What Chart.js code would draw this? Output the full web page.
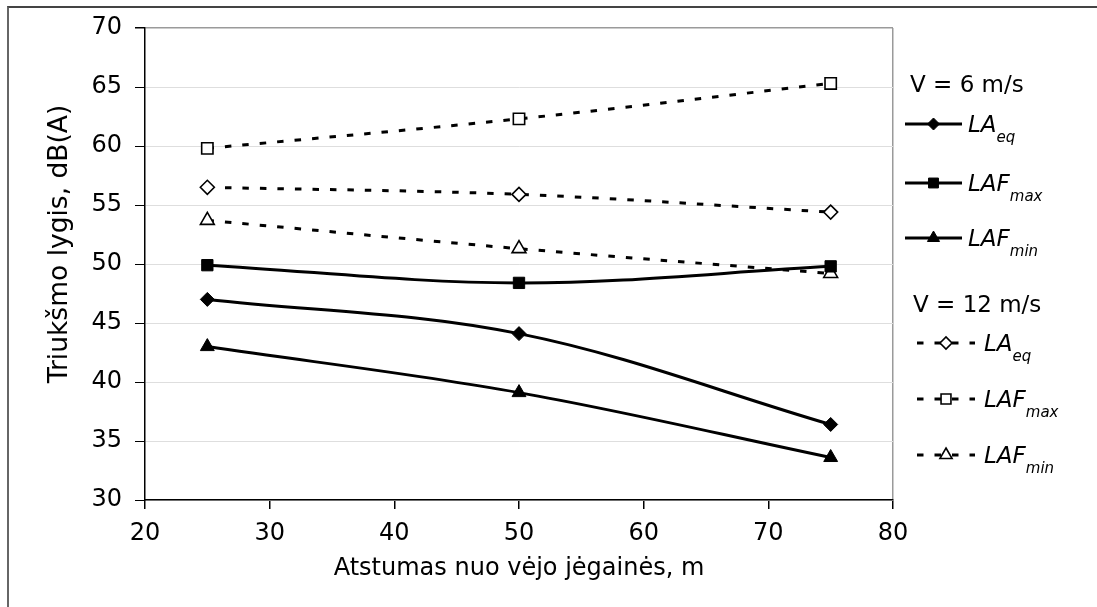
<!DOCTYPE html>
<html lang="lt">
<head>
    <meta charset="UTF-8">
    <title>Triukšmo lygis</title>
    <script src="https://cdn.jsdelivr.net/npm/chart.js"></script>
    <style>
        html, body { margin: 0; padding: 0; background: #fff; }
        #wrap { position: relative; width: 1097px; height: 607px; overflow: hidden; }
        #frame { position: absolute; left: 7px; top: 6px; width: 1200px; height: 700px;
                 border-top: 2px solid #444; border-left: 2px solid #666; }
        canvas { position: absolute; left: 0; top: 0; }
    </style>
</head>
<body>
<div id="wrap">
    <div id="frame"></div>
    <canvas id="noiseChart" width="1097" height="607"></canvas>
</div>

<script>
    // atstumai, m
    const distances = [25, 50, 75];

    // V = 6 m/s
    const laeq6 = [47.0, 44.1, 36.4];
    const lafmax6 = [49.9, 48.4, 49.8];
    const lafmin6 = [43.0, 39.1, 33.6];

    // V = 12 m/s
    const laeq12 = [56.5, 55.9, 54.4];
    const lafmax12 = [59.8, 62.3, 65.3];
    const lafmin12 = [53.7, 51.3, 49.2];

    const xMin = 20, xMax = 80, xStep = 10;
    const yMin = 30, yMax = 70, yStep = 5;

    const xTitle = 'Atstumas nuo vėjo jėgainės, m';
    const yTitle = 'Triukšmo lygis, dB(A)';
    const group6 = 'V = 6 m/s';
    const group12 = 'V = 12 m/s';

    const FONT = '"DejaVu Sans", sans-serif';
    const DASH = [6.5, 11];

    function pts(vals) {
        return vals.map((v, i) => ({ x: distances[i], y: v }));
    }

    function series(label, sub, vals, style, radius, dashed) {
        return {
            label: label,
            sub: sub,
            data: pts(vals),
            borderColor: '#000',
            borderWidth: 3,
            borderDash: dashed ? DASH : [],
            backgroundColor: dashed ? '#fff' : '#000',
            pointStyle: style,
            pointRadius: radius,
            pointHoverRadius: radius,
            pointBorderColor: '#000',
            pointBackgroundColor: dashed ? '#fff' : '#000',
            pointBorderWidth: dashed ? 1.6 : 1,
            tension: 0.35,
            dashed: dashed
        };
    }

    const datasets = [
        series('LA', 'eq', laeq6, 'rectRot', 7, false),
        series('LAF', 'max', lafmax6, 'rect', 8, false),
        series('LAF', 'min', lafmin6, 'triangle', 8, false),
        series('LA', 'eq', laeq12, 'rectRot', 7, true),
        series('LAF', 'max', lafmax12, 'rect', 8, true),
        series('LAF', 'min', lafmin12, 'triangle', 8, true)
    ];

    // ašių pavadinimai ir legenda su indeksais
    const decorPlugin = {
        id: 'decor',
        afterDraw(chart) {
            const ctx = chart.ctx;
            const area = chart.chartArea;
            ctx.save();
            ctx.fillStyle = '#000';

            // x ašies pavadinimas
            ctx.font = '24px ' + FONT;
            ctx.textAlign = 'center';
            ctx.textBaseline = 'middle';
            ctx.fillText(xTitle, (area.left + area.right) / 2, 569);

            // y ašies pavadinimas
            ctx.save();
            ctx.translate(60, 244);
            ctx.rotate(-Math.PI / 2);
            ctx.font = '26.5px ' + FONT;
            ctx.fillText(yTitle, 0, 0);
            ctx.restore();

            // legenda
            ctx.textAlign = 'left';
            ctx.textBaseline = 'alphabetic';
            ctx.font = '23px ' + FONT;
            ctx.fillText(group6, 910, 92);
            ctx.fillText(group12, 913, 312);

            const rows = [124, 183, 238, 343, 399, 455];
            chart.data.datasets.forEach((ds, i) => {
                const y = rows[i];
                const x0 = ds.dashed ? 917 : 905;
                const x1 = ds.dashed ? 975 : 962;
                const tx = ds.dashed ? 984 : 968;

                ctx.save();
                ctx.strokeStyle = '#000';
                ctx.lineWidth = 3;
                ctx.setLineDash(ds.dashed ? DASH : []);
                ctx.beginPath();
                ctx.moveTo(x0, y);
                ctx.lineTo(x1, y);
                ctx.stroke();
                ctx.setLineDash([]);
                ctx.fillStyle = ds.pointBackgroundColor;
                ctx.strokeStyle = '#000';
                ctx.lineWidth = ds.pointBorderWidth;
                Chart.helpers.drawPoint(ctx, {
                    pointStyle: ds.pointStyle,
                    radius: ds.pointRadius - 1,
                    rotation: 0,
                    borderWidth: ds.pointBorderWidth
                }, (x0 + x1) / 2, y);
                ctx.restore();

                ctx.fillStyle = '#000';
                ctx.font = 'italic 23px ' + FONT;
                ctx.fillText(ds.label, tx, y + 8);
                const w = ctx.measureText(ds.label).width;
                ctx.font = 'italic 15px ' + FONT;
                ctx.fillText(ds.sub, tx + w, y + 18);
            });
            ctx.restore();
        }
    };

    new Chart(document.getElementById('noiseChart').getContext('2d'), {
        type: 'line',
        data: { datasets: datasets },
        plugins: [decorPlugin],
        options: {
            responsive: false,
            animation: false,
            events: [],
            layout: { padding: { left: 0, top: 28, right: 204, bottom: 0 } },
            plugins: {
                legend: { display: false },
                tooltip: { enabled: false }
            },
            scales: {
                x: {
                    type: 'linear',
                    min: xMin,
                    max: xMax,
                    afterFit(scale) { scale.height = 107; },
                    ticks: {
                        stepSize: xStep,
                        color: '#000',
                        padding: 10,
                        font: { family: FONT, size: 24 }
                    },
                    grid: {
                        drawOnChartArea: true,
                        tickLength: 9,
                        tickColor: '#000',
                        color: ctx => ctx.tick && ctx.tick.value === xMax ? '#9a9a9a' : 'rgba(0,0,0,0)',
                        lineWidth: 1.5
                    },
                    border: { color: '#000', width: 1.5 }
                },
                y: {
                    min: yMin,
                    max: yMax,
                    afterFit(scale) { scale.width = 145; },
                    ticks: {
                        stepSize: yStep,
                        color: '#000',
                        padding: 13,
                        font: { family: FONT, size: 24 }
                    },
                    grid: {
                        tickLength: 10,
                        tickColor: '#000',
                        color: ctx => ctx.tick && ctx.tick.value === yMax ? '#9a9a9a' : '#dedede',
                        lineWidth: ctx => ctx.tick && ctx.tick.value === yMax ? 1.5 : 1
                    },
                    border: { color: '#000', width: 1.5 }
                }
            }
        }
    });
</script>
</body>
</html>
